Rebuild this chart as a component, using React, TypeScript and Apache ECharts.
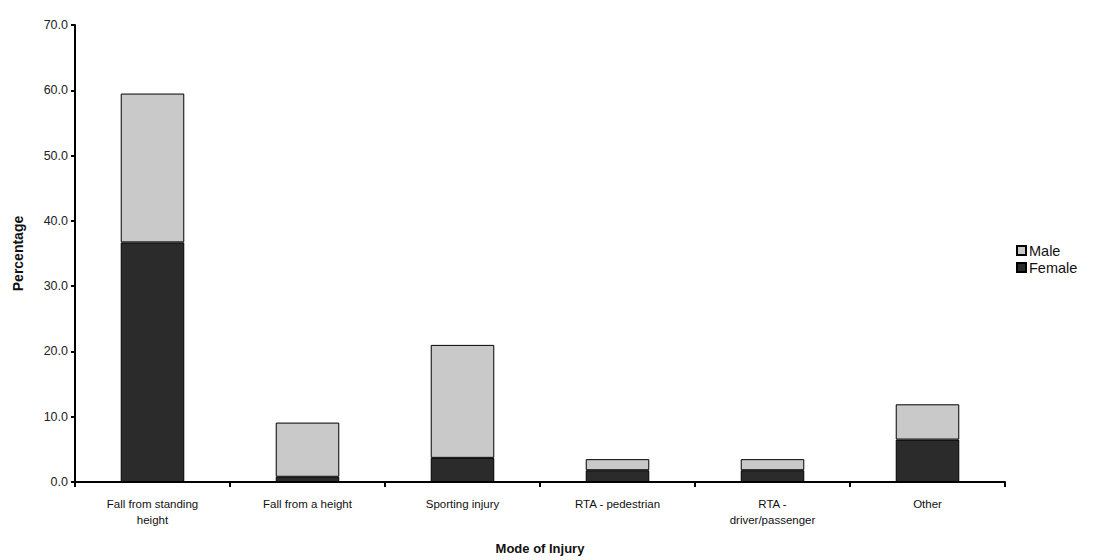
import React, { useEffect, useRef } from "react";
import * as echarts from "echarts";

const categories = [
  "Fall from standing\nheight",
  "Fall from a height",
  "Sporting injury",
  "RTA - pedestrian",
  "RTA -\ndriver/passenger",
  "Other",
];
const femaleValues = [36.7, 0.8, 3.7, 1.8, 1.8, 6.5];
const maleValues = [22.8, 8.3, 17.3, 1.7, 1.7, 5.4];
const yTicks = { min: 0, max: 70, interval: 10 };

export default function App() {
  const ref = useRef<HTMLDivElement>(null);
  useEffect(() => {
    if (!ref.current) return;
    const chart = echarts.init(ref.current, undefined, { renderer: "svg" });
    const font = "Arial, 'Liberation Sans', sans-serif";
    chart.setOption({
      animation: false,
      backgroundColor: "#ffffff",
      textStyle: { fontFamily: font },
      grid: { left: 75, right: 97, top: 25, bottom: 78, containLabel: false },
      legend: {
        data: ["Male", "Female"],
        orient: "vertical",
        left: 1011,
        top: 238,
        itemWidth: 9,
        itemHeight: 9,
        itemGap: 2,
        icon: "rect",
        textStyle: { fontSize: 14.5, color: "#111", fontFamily: font, padding: [0, 0, 0, -2] },
      },
      xAxis: {
        type: "category",
        data: categories,
        name: "Mode of Injury",
        nameLocation: "middle",
        nameGap: 60,
        nameTextStyle: { fontSize: 13, fontWeight: "bold", color: "#111", fontFamily: font },
        axisLine: { lineStyle: { color: "#000", width: 2 } },
        axisTick: { show: true, length: 5, lineStyle: { color: "#000", width: 2 } },
        axisLabel: {
          fontSize: 11.5,
          color: "#111",
          margin: 14,
          interval: 0,
          lineHeight: 16,
          fontFamily: font,
        },
      },
      yAxis: {
        type: "value",
        min: yTicks.min,
        max: yTicks.max,
        interval: yTicks.interval,
        name: "Percentage",
        nameLocation: "middle",
        nameGap: 50,
        nameTextStyle: { fontSize: 14, fontWeight: "bold", color: "#111", fontFamily: font },
        splitLine: { show: false },
        axisLine: { show: true, lineStyle: { color: "#000", width: 2 } },
        axisTick: { show: true, length: 4, lineStyle: { color: "#000", width: 2 } },
        axisLabel: {
          fontSize: 12.5,
          color: "#222",
          margin: 7,
          fontFamily: font,
          formatter: (v: number) => v.toFixed(1),
        },
      },
      series: [
        {
          name: "Female",
          type: "bar",
          stack: "total",
          barWidth: "41%",
          data: femaleValues,
          itemStyle: { color: "#2b2b2b", borderColor: "#000", borderWidth: 1 },
        },
        {
          name: "Male",
          type: "bar",
          stack: "total",
          barWidth: "41%",
          data: maleValues,
          itemStyle: { color: "#c9c9c9", borderColor: "#000", borderWidth: 1 },
        },
      ],
    });
    return () => chart.dispose();
  }, []);
  return <div ref={ref} style={{ width: 1102, height: 560, position: "absolute", left: 0, top: 0 }} />;
}
